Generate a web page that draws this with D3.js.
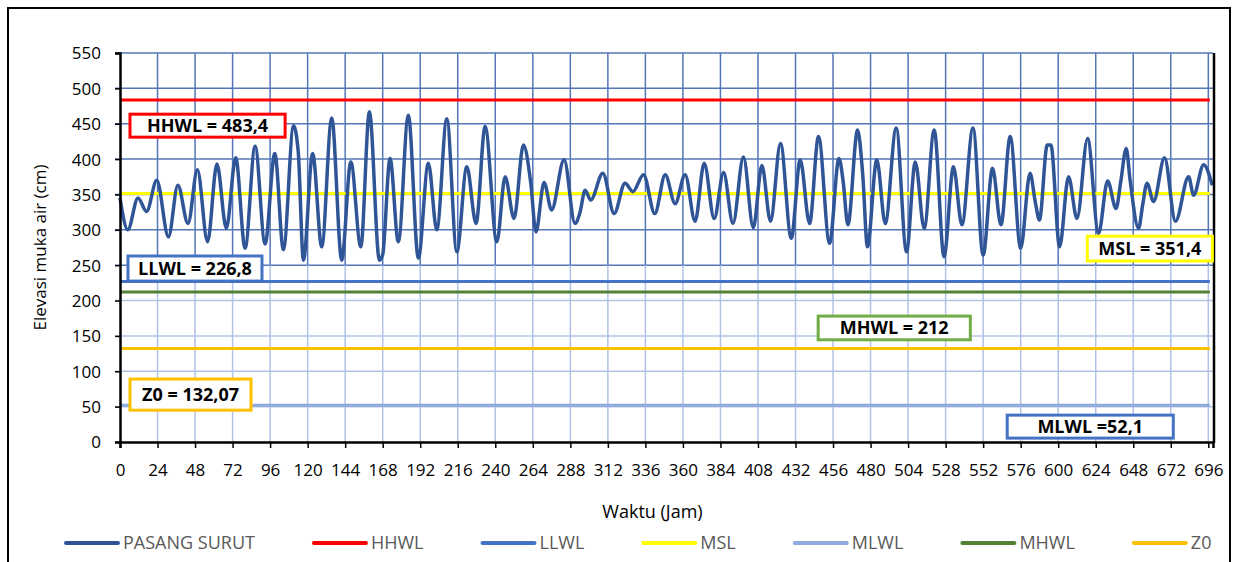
<!DOCTYPE html>
<html>
<head>
<meta charset="utf-8">
<script src="https://cdn.jsdelivr.net/npm/d3@7"></script>
<style>
  html, body { margin: 0; padding: 0; background: #fff; }
  svg { display: block; font-family: "Open Sans", sans-serif; }
</style>
</head>
<body>
<svg id="chart" width="1238" height="562"></svg>
<script>
(function () {
    'use strict';

    // tide record: hour and elevation (cm), read at turning points
    var hours = [0, 5, 11.5, 17, 23.5, 31, 37, 43.5, 49.5, 56, 62, 68, 74, 80, 86.4, 92.8, 99, 104.5,
        111, 114, 117.3, 123.2, 129, 135.4, 141.8, 147.6, 154, 159.5, 165.9, 168, 172.7, 178, 184.4,
        190.8, 197.2, 202.6, 209, 215.4, 221.8, 227.7, 233.5, 241, 246.3, 252, 258, 262.7, 266, 271.2,
        276, 284, 291, 294, 297.5, 301, 308.8, 316, 323, 328, 334.8, 342, 348.7, 355, 361.4, 367.8,
        373.6, 380, 386, 392, 398.7, 405, 410.5, 416, 422.4, 429.3, 435, 441, 446.7, 453.8, 459.8,
        462.5, 465.5, 471.7, 475, 478, 484, 489.4, 496.4, 503, 508.6, 514.3, 520.7, 527, 533, 538.4,
        545.5, 552, 558, 563.4, 569.3, 576, 582, 585.3, 588, 593, 595.3, 600.9, 606.6, 612, 618.8,
        625.8, 631.6, 637, 640, 643.5, 646, 651.4, 654, 656.8, 661, 668, 675, 683.4, 686.6, 693, 698.5];
    var tide = [345, 300, 345, 326, 370, 290, 363, 309, 385, 283, 393, 302, 402, 274, 418, 280, 408, 272,
        447, 410, 257, 408, 276, 458, 257, 396, 276, 467, 257, 265, 401, 283, 462,
        260, 394, 300, 457, 269, 389, 309, 446, 283, 375, 316, 420, 366, 297, 367,
        328, 399, 309, 323, 356, 342, 380, 323, 366, 354, 378, 323, 378, 337, 378, 312,
        394, 316, 381, 309, 403, 303, 391, 312, 422, 288, 399, 309, 432, 281, 401,
        368, 307, 441, 378, 276, 399, 309, 444, 269, 396, 302, 441, 262, 389, 307,
        444, 264, 387, 307, 432, 274, 380, 340, 314, 420, 420, 276, 375, 316, 429,
        295, 369, 330, 368, 415, 370, 302, 335, 366, 340, 402, 312, 375, 349, 392, 363];

    var refNames = ['HHWL', 'LLWL', 'MSL', 'MLWL', 'MHWL', 'Z0'];
    var refValues = [483.4, 226.8, 351.4, 52.1, 212, 132.07];
    var refColors = ['#FF0000', '#4472C4', '#FFFF00', '#8FAADC', '#548235', '#FFC000'];
    var refEnd = 697;

    var xTicks = d3.range(0, 697, 24);
    var yTicks = d3.range(0, 551, 50);

    // annotation boxes, in chart units: [hour from, hour to, value top, value bottom]
    var boxTexts = ['HHWL = 483,4', 'LLWL = 226,8', 'MSL = 351,4', 'MHWL = 212', 'Z0 = 132,07', 'MLWL =52,1'];
    var boxColors = ['#FF0000', '#4472C4', '#FFFF00', '#70AD47', '#FFC000', '#4472C4'];
    var boxSpans = [[6.4, 105.6, 463.5, 431], [5.1, 90.8, 263, 227.5], [618.6, 698.6, 291, 256],
        [446.5, 543.8, 178, 144.5], [6.4, 83.8, 89, 45], [567.4, 673.6, 38, 5.5]];

    var legendNames = ['PASANG SURUT'].concat(refNames);
    var legendColors = ['#2F5597'].concat(refColors);

    var tideColor = '#2F5597';
    var gridDark = '#5476B9';
    var gridLight = '#B0C3E6';

    var svg = d3.select('#chart');

    var x = d3.scaleLinear().domain([0, 699]).range([120, 1213]);
    var y = d3.scaleLinear().domain([0, 550]).range([442, 53]);

    // outer frame
    svg.append('rect')
        .attr('x', 8).attr('y', 8)
        .attr('width', 1222).attr('height', 570)
        .attr('fill', 'none')
        .attr('stroke', '#000')
        .attr('stroke-width', 2);

    // grid
    var grid = svg.append('g');
    grid.selectAll('line.h')
        .data(yTicks.filter(function (d) { return d > 0; }))
        .enter().append('line')
        .attr('class', 'h')
        .attr('x1', x(0) - 5).attr('x2', x(699))
        .attr('y1', function (d) { return y(d); })
        .attr('y2', function (d) { return y(d); })
        .attr('stroke', function (d) { return d >= 250 ? gridDark : gridLight; })
        .attr('stroke-width', 1.5);

    xTicks.filter(function (d) { return d > 0; }).forEach(function (t) {
        grid.append('line')
            .attr('x1', x(t)).attr('x2', x(t))
            .attr('y1', y(550)).attr('y2', y(250))
            .attr('stroke', gridDark).attr('stroke-width', 1.5);
        grid.append('line')
            .attr('x1', x(t)).attr('x2', x(t))
            .attr('y1', y(250)).attr('y2', y(0))
            .attr('stroke', gridLight).attr('stroke-width', 1.5);
    });

    // reference levels
    svg.append('g').selectAll('line')
        .data(refValues)
        .enter().append('line')
        .attr('x1', x(0)).attr('x2', x(refEnd))
        .attr('y1', function (d) { return y(d); })
        .attr('y2', function (d) { return y(d); })
        .attr('stroke', function (d, i) { return refColors[i]; })
        .attr('stroke-width', 3);

    // tide curve
    var line = d3.line()
        .x(function (d) { return x(d[0]); })
        .y(function (d) { return y(d[1]); })
        .curve(d3.curveMonotoneX);

    svg.append('path')
        .datum(d3.zip(hours, tide))
        .attr('d', line)
        .attr('fill', 'none')
        .attr('stroke', tideColor)
        .attr('stroke-width', 3.5)
        .attr('stroke-linejoin', 'round');

    // axes
    var yAxis = svg.append('g')
        .attr('transform', 'translate(' + x(0) + ',0)')
        .call(d3.axisLeft(y).tickValues(yTicks).tickSize(5).tickPadding(14));
    var xAxis = svg.append('g')
        .attr('transform', 'translate(0,' + y(0) + ')')
        .call(d3.axisBottom(x).tickValues(xTicks).tickSize(6).tickPadding(16));

    [xAxis, yAxis].forEach(function (a) {
        a.select('.domain').attr('stroke', '#000').attr('stroke-width', 2.5);
        a.selectAll('.tick line').attr('stroke', '#000').attr('stroke-width', 1.5);
        a.selectAll('.tick text')
            .attr('fill', '#000')
            .style('font-size', '17px')
            .style('font-family', '"Open Sans", sans-serif');
    });
    yAxis.selectAll('.tick text').attr('dy', '0.35em');

    // right frame of the plot
    svg.append('line')
        .attr('x1', x(699) + 1).attr('x2', x(699) + 1)
        .attr('y1', y(550)).attr('y2', y(0) + 1)
        .attr('stroke', '#000').attr('stroke-width', 2.5);

    // axis titles
    svg.append('text')
        .attr('transform', 'translate(46,' + ((y(0) + y(550)) / 2) + ') rotate(-90)')
        .attr('text-anchor', 'middle')
        .style('font-size', '17px')
        .text('Elevasi muka air (cm)');

    svg.append('text')
        .attr('x', (x(0) + x(699)) / 2 - 14)
        .attr('y', 518)
        .attr('text-anchor', 'middle')
        .style('font-size', '18px')
        .text('Waktu (Jam)');

    // annotation boxes
    var boxes = svg.append('g').selectAll('g')
        .data(boxTexts)
        .enter().append('g');

    boxes.append('rect')
        .attr('x', function (d, i) { return x(boxSpans[i][0]); })
        .attr('y', function (d, i) { return y(boxSpans[i][2]); })
        .attr('width', function (d, i) { return x(boxSpans[i][1]) - x(boxSpans[i][0]); })
        .attr('height', function (d, i) { return y(boxSpans[i][3]) - y(boxSpans[i][2]); })
        .attr('fill', '#fff')
        .attr('stroke', function (d, i) { return boxColors[i]; })
        .attr('stroke-width', 3);

    boxes.append('text')
        .attr('x', function (d, i) { return (x(boxSpans[i][0]) + x(boxSpans[i][1])) / 2; })
        .attr('y', function (d, i) { return (y(boxSpans[i][2]) + y(boxSpans[i][3])) / 2; })
        .attr('dy', '0.36em')
        .attr('text-anchor', 'middle')
        .style('font-size', '18px')
        .style('font-weight', 'bold')
        .text(function (d) { return d; });

    // legend
    var legend = svg.append('g').attr('transform', 'translate(0,543)');
    var lx = 66;
    legendNames.forEach(function (name, i) {
        legend.append('line')
            .attr('x1', lx).attr('x2', lx + 52)
            .attr('y1', 0).attr('y2', 0)
            .attr('stroke', legendColors[i])
            .attr('stroke-width', 4)
            .attr('stroke-linecap', 'round');
        var t = legend.append('text')
            .attr('x', lx + 57)
            .attr('dy', '0.35em')
            .attr('fill', '#595959')
            .style('font-size', '18px')
            .text(name);
        lx += 57 + t.node().getComputedTextLength() + 59;
    });
})();
</script>
</body>
</html>
